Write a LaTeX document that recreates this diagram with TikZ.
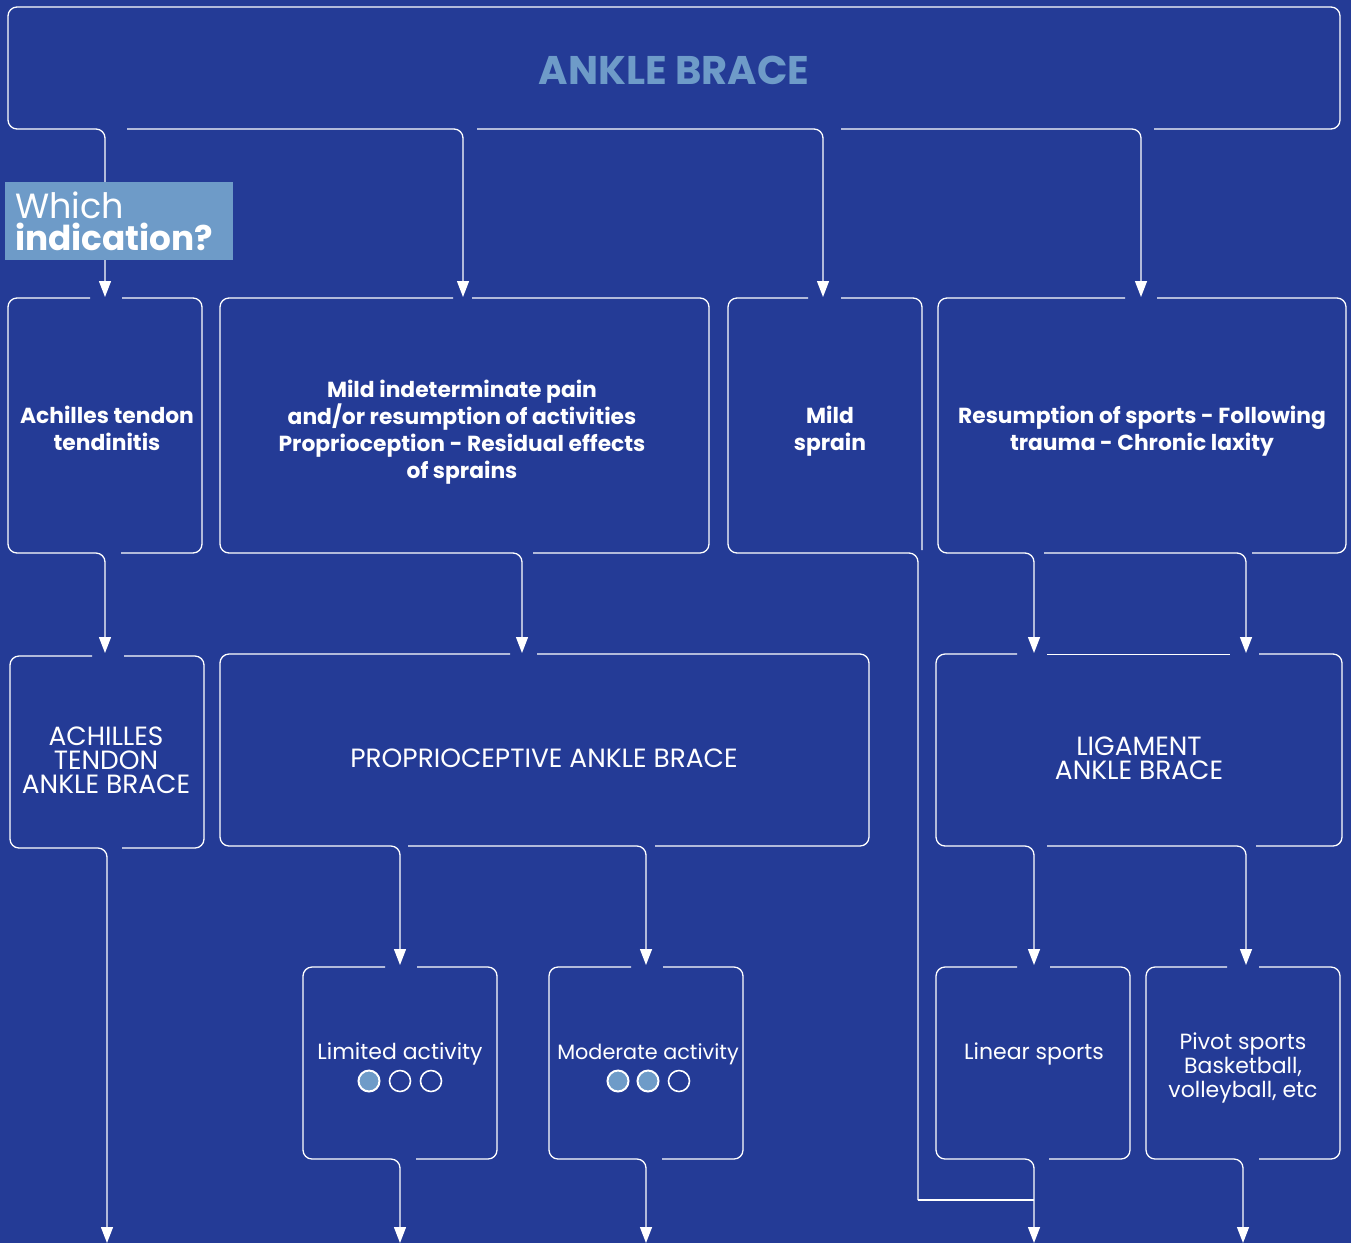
\documentclass[tikz,border=0pt]{standalone}
\usepackage{fontspec}
\setmainfont{Poppins}
\usetikzlibrary{arrows.meta}
\definecolor{bgblue}{RGB}{36,59,150}
\definecolor{lightblue}{RGB}{110,155,200}
\tikzset{
  wire/.style={draw=white, line width=1.3pt, rounded corners=9pt},
  arrowwire/.style={wire, -{Triangle[length=16pt,width=12pt]}},
  boldlabel/.style={text=white, align=center, font=\bfseries\fontsize{21.8}{27}\selectfont},
  caplabel/.style={text=white, align=center, font=\fontsize{26.4}{24}\selectfont},
  actlabel/.style={text=white, align=center, font=\fontsize{22}{24}\selectfont},
  dotfull/.style={circle, draw=white, line width=2pt, fill=lightblue, minimum size=21pt, inner sep=0pt},
  dotempty/.style={circle, draw=white, line width=1.6pt, minimum size=21pt, inner sep=0pt},
}
\begin{document}
\begin{tikzpicture}[x=1pt,y=-1pt]
\useasboundingbox (0,0) rectangle (1351,1243);
\fill[bgblue] (0,0) rectangle (1351,1243);

% ---------- top box ----------
\draw[arrowwire] (1154,129) -- (1340,129) -- (1340,7) -- (8,7) -- (8,129) -- (105,129) -- (105,297);
\draw[arrowwire] (127,129) -- (463,129) -- (463,297);
\draw[arrowwire] (477,129) -- (823,129) -- (823,297);
\draw[arrowwire] (841,129) -- (1141,129) -- (1141,297);
\node[text=lightblue, font=\bfseries\fontsize{40}{44}\selectfont] (title) at (674,70) {ANKLE BRACE};

% ---------- Which indication ----------
\fill[lightblue] (5,182) rectangle (233,260);
\node[anchor=base west, text=white, inner sep=0pt, font=\fontsize{35}{36}\selectfont] (which) at (15,218) {Which};
\node[anchor=base west, text=white, inner sep=0pt, font=\bfseries\fontsize{34.3}{36}\selectfont] (indic) at (15,250) {indication?};

% ---------- row 2 ----------
% A
\draw[wire] (122,298) -- (202,298) -- (202,553) -- (121,553);
\draw[arrowwire] (90,298) -- (8,298) -- (8,553) -- (105,553) -- (105,653);
\node[boldlabel] (achilles) at (107,428) {Achilles tendon\\tendinitis};
% B
\draw[wire] (472,298) -- (709,298) -- (709,553) -- (533,553);
\draw[arrowwire] (453,298) -- (220,298) -- (220,553) -- (522,553) -- (522,653);
\node[boldlabel] (mildpain) at (462,432) {Mild indeterminate pain\\and/or resumption of activities\\Proprioception - Residual effects\\of sprains};
% C
\draw[wire] (841,298) -- (922,298) -- (922,550);
\draw[wire] (808,298) -- (728,298) -- (728,553) -- (918,553) -- (918,1200);
\draw[draw=white, line width=1.3pt] (918,1200) -- (1034,1200);
\node[boldlabel] (sprain) at (830,431) {Mild\\sprain};
% D
\draw[arrowwire] (1125,298) -- (938,298) -- (938,553) -- (1034,553) -- (1034,653);
\draw[arrowwire] (1044,553) -- (1246,553) -- (1246,653);
\draw[wire] (1157,298) -- (1346,298) -- (1346,553) -- (1252,553);
\node[boldlabel] (resump) at (1142,431) {Resumption of sports - Following\\trauma - Chronic laxity};

% ---------- row 3 ----------
% E
\draw[wire] (124,656) -- (204,656) -- (204,848) -- (122,848);
\draw[arrowwire] (92,656) -- (10,656) -- (10,848) -- (107,848) -- (107,1243);
\node[caplabel] (achbrace) at (106,760) {ACHILLES\\TENDON\\ANKLE BRACE};
% F
\draw[arrowwire] (510,654) -- (220,654) -- (220,846) -- (400,846) -- (400,965);
\draw[arrowwire] (408,846) -- (646,846) -- (646,965);
\draw[wire] (537,654) -- (869,654) -- (869,846) -- (655,846);
\node[caplabel] (propbrace) at (544,758) {PROPRIOCEPTIVE ANKLE BRACE};
% G
\draw[arrowwire] (1017,654) -- (936,654) -- (936,846) -- (1034,846) -- (1034,965);
\draw[arrowwire] (1047,846) -- (1246,846) -- (1246,965);
\draw[wire] (1256,846) -- (1342,846) -- (1342,654) -- (1259,654);
\draw[wire] (1047,654.3) -- (1230,654.3);
\node[caplabel] (ligbrace) at (1139,758) {LIGAMENT\\ANKLE BRACE};

% ---------- row 4 ----------
% H
\draw[arrowwire] (385,967) -- (303,967) -- (303,1159) -- (400,1159) -- (400,1243);
\draw[wire] (416,1159) -- (497,1159) -- (497,967) -- (417,967);
\node[actlabel] (limited) at (400,1054) {Limited activity};
\node[dotfull] (h1) at (369,1081) {};
\node[dotempty] (h2) at (400,1081) {};
\node[dotempty] (h3) at (431,1081) {};
% I
\draw[arrowwire] (631,967) -- (549,967) -- (549,1159) -- (646,1159) -- (646,1243);
\draw[wire] (662,1159) -- (743,1159) -- (743,967) -- (663,967);
\node[actlabel, font=\fontsize{20.8}{24}\selectfont] (moderate) at (648,1054) {Moderate activity};
\node[dotfull] (i1) at (618,1081) {};
\node[dotfull] (i2) at (648,1081) {};
\node[dotempty] (i3) at (679,1081) {};
% J
\draw[arrowwire] (1017,967) -- (936,967) -- (936,1159) -- (1034,1159) -- (1034,1243);
\draw[wire] (1049,1159) -- (1130,1159) -- (1130,967) -- (1050,967);
\node[actlabel] (linear) at (1034,1054) {Linear sports};
% K
\draw[arrowwire] (1227,967) -- (1146,967) -- (1146,1159) -- (1243,1159) -- (1243,1243);
\draw[wire] (1259,1159) -- (1340,1159) -- (1340,967) -- (1259,967);
\node[actlabel] (pivot) at (1243,1068) {Pivot sports\\Basketball,\\volleyball, etc};
\end{tikzpicture}
\end{document}
